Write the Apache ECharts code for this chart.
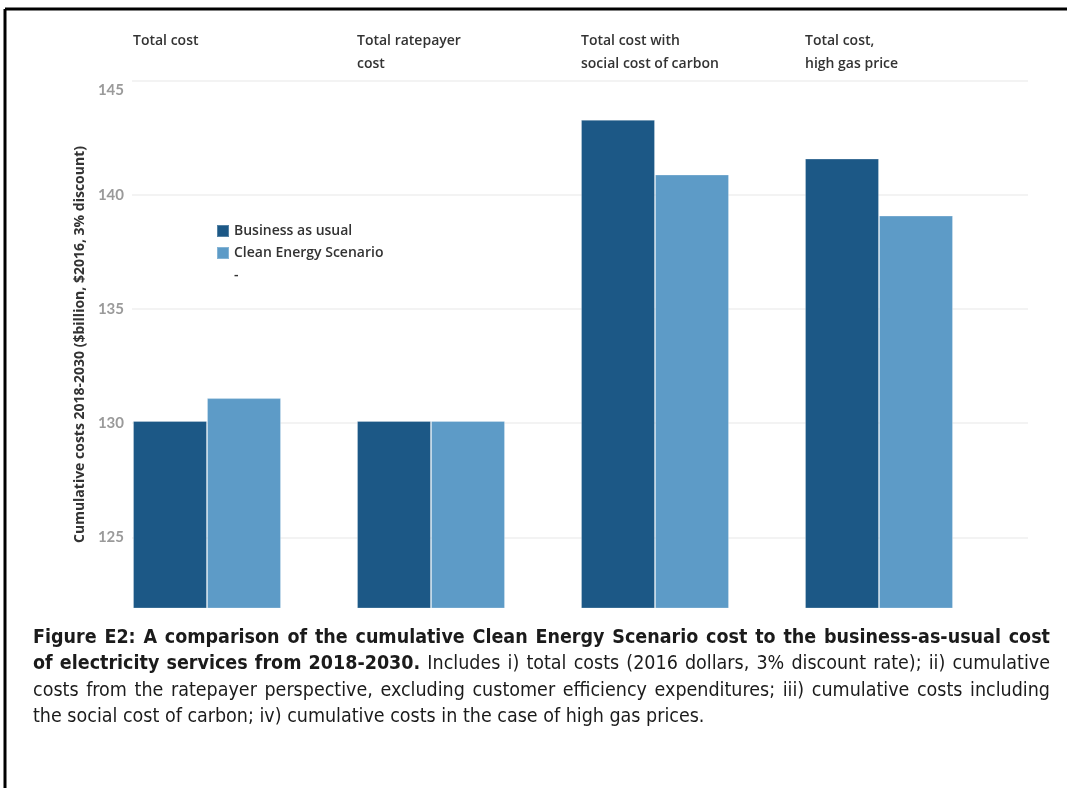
<!DOCTYPE html>
<html>
<head>
<meta charset="utf-8">
<script src="https://cdn.jsdelivr.net/npm/echarts@6/dist/echarts.min.js"></script>
<style>
  html, body { margin: 0; padding: 0; background: #fff; }
  #chart { width: 1067px; height: 788px; }
</style>
</head>
<body>
<div id="chart"></div>
<script>
// Panel headings (one per comparison) and the two scenarios
const panels = ['Total cost', 'Total ratepayer\ncost', 'Total cost with\nsocial cost of carbon', 'Total cost,\nhigh gas price'];
const businessAsUsual = [130.1, 130.1, 143.3, 141.6];
const cleanEnergy = [131.1, 130.1, 140.9, 139.1];
const emptySlot = [null, null, null, null];
const seriesNames = ['Business as usual', 'Clean Energy Scenario', '-'];
const yTicks = [125, 130, 135, 140, 145];
const yMin = 121.9;
const yMax = 145;
const yAxisTitle = 'Cumulative costs 2018-2030 ($billion, $2016, 3% discount)';

// Figure caption, split into lines and bold/regular runs
const captionLines = [
  [['Figure E2: A comparison of the cumulative Clean Energy Scenario cost to the business-as-usual cost', true]],
  [['of electricity services from 2018-2030.', true], ['Includes i) total costs (2016 dollars, 3% discount rate); ii) cumulative', false]],
  [['costs from the ratepayer perspective, excluding customer efficiency expenditures; iii) cumulative costs including', false]],
  [['the social cost of carbon; iv) cumulative costs in the case of high gas prices.', false]]
];

const COLOR_BAU = '#1c5886';
const COLOR_CES = '#5d9bc7';
const UI_FONT = '"Open Sans", Lato, sans-serif';
const TICK_FONT = 'Lato, "Open Sans", sans-serif';
const CAPTION_FONT = '"DejaVu Sans Condensed", "Liberation Sans Narrow", sans-serif';

// Justified caption: each word placed as its own text element
function buildCaption() {
  const left = 33, right = 1050, top = 638, lineHeight = 26.4, size = 19.5;
  const ctx = document.createElement('canvas').getContext('2d');
  const fontFor = bold => (bold ? 'bold ' : '') + size + 'px ' + CAPTION_FONT;
  const out = [];
  captionLines.forEach((runs, li) => {
    const words = [];
    runs.forEach(([text, bold]) => {
      text.split(' ').forEach(w => {
        ctx.font = fontFor(bold);
        words.push({ w, bold, width: ctx.measureText(w).width });
      });
    });
    ctx.font = fontFor(false);
    const space = ctx.measureText(' ').width;
    const total = words.reduce((s, o) => s + o.width, 0);
    const last = li === captionLines.length - 1;
    const gap = last ? space : Math.max(2, (right - left - total) / (words.length - 1));
    let x = left;
    const y = top + li * lineHeight;
    words.forEach(o => {
      out.push({
        type: 'text', x, y, silent: true,
        style: {
          text: o.w, fill: '#1b1b1b', fontSize: size,
          fontFamily: CAPTION_FONT, fontWeight: o.bold ? 'bold' : 'normal',
          verticalAlign: 'middle'
        }
      });
      x += o.width + gap;
    });
  });
  return out;
}

const chart = echarts.init(document.getElementById('chart'), null, { renderer: 'canvas' });

const barCommon = { type: 'bar', barWidth: 74, barGap: '0%', xAxisIndex: 0, yAxisIndex: 0 };

chart.setOption({
  animation: false,
  backgroundColor: '#fff',
  grid: { left: 132, top: 81, width: 896, height: 527, containLabel: false },
  legend: {
    orient: 'vertical', left: 216, top: 224, padding: 0,
    itemWidth: 12, itemHeight: 12, itemGap: 8,
    icon: 'rect',
    data: seriesNames,
    selectedMode: false,
    textStyle: { fontFamily: UI_FONT, fontSize: 14, fontWeight: 600, color: '#333' }
  },
  xAxis: [
    {
      type: 'category', data: panels, position: 'bottom',
      axisLine: { show: false }, axisTick: { show: false }, axisLabel: { show: false }
    },
    {
      // heading axis: one tick at the left edge of each panel
      type: 'value', position: 'top', min: 0, max: panels.length, interval: 1,
      axisLine: { show: false }, axisTick: { show: false }, splitLine: { show: false },
      axisLabel: {
        show: true, showMaxLabel: false, align: 'left', verticalAlign: 'top', margin: 51,
        lineHeight: 23, padding: [0, 0, 0, 1],
        fontFamily: UI_FONT, fontSize: 14, fontWeight: 600, color: '#333',
        formatter: v => panels[v] || ''
      }
    }
  ],
  yAxis: {
    type: 'value', min: yMin, max: yMax,
    name: yAxisTitle, nameLocation: 'middle', nameGap: 44, nameRotate: 90,
    nameTextStyle: { fontFamily: UI_FONT, fontSize: 14, fontWeight: 'bold', color: '#333' },
    axisLine: { show: false },
    axisTick: { show: false, customValues: yTicks },
    axisLabel: {
      customValues: yTicks, margin: 8,
      fontFamily: TICK_FONT, fontSize: 15, fontWeight: 'bold', color: '#9a9a9a',
      // the top label sits just inside the plot
      formatter: v => (v === yMax ? '{top|' + v + '}' : String(v)),
      rich: { top: { padding: [18, 0, 0, 0], fontFamily: TICK_FONT, fontSize: 15, fontWeight: 'bold', color: '#9a9a9a' } }
    },
    splitLine: { show: true, lineStyle: { color: '#efefef', width: 1.5 } }
  },
  series: [
    Object.assign({}, barCommon, { name: seriesNames[0], data: businessAsUsual,
      itemStyle: { color: COLOR_BAU, borderColor: 'rgba(255,255,255,0.25)', borderWidth: 1 } }),
    Object.assign({}, barCommon, { name: seriesNames[1], data: cleanEnergy,
      itemStyle: { color: COLOR_CES, borderColor: 'rgba(255,255,255,0.25)', borderWidth: 1 } }),
    Object.assign({}, barCommon, { name: seriesNames[2], data: emptySlot,
      itemStyle: { color: 'rgba(0,0,0,0)' } })
  ],
  graphic: [
    { type: 'line', silent: true, shape: { x1: 5, y1: 9, x2: 1067, y2: 9 }, style: { stroke: '#000', lineWidth: 3 } },
    { type: 'line', silent: true, shape: { x1: 5, y1: 9, x2: 5, y2: 788 }, style: { stroke: '#000', lineWidth: 3 } }
  ].concat(buildCaption())
});
</script>
</body>
</html>
